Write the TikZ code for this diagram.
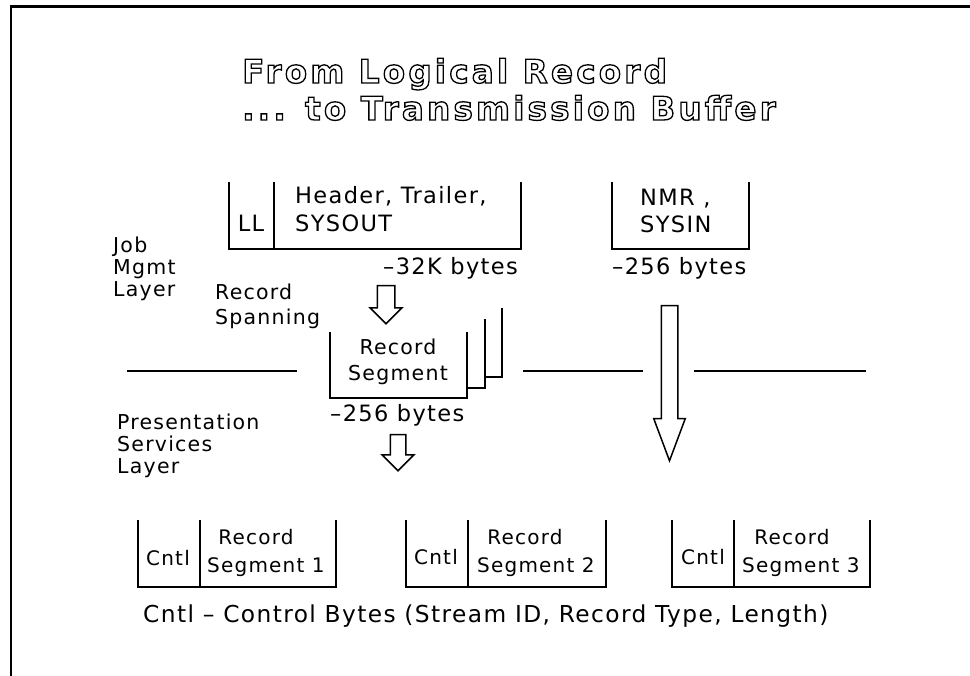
\documentclass[tikz,border=0pt]{standalone}
\usepackage{fontspec}
\setmainfont{DejaVu Sans}
\newfontfamily\plotfont[LetterSpace=6]{DejaVu Sans}
\newfontfamily\bannerfont[LetterSpace=10]{DejaVu Sans Bold}
\usetikzlibrary{shapes.arrows}

% hollow letters: stroke the glyph outlines only
\newcommand{\hollow}[1]{\special{pdf:literal direct 1 Tr 1.3 w}#1\special{pdf:literal direct 0 Tr}}

\begin{document}
\begin{tikzpicture}[
  x=1pt, y=-1pt,
	banner/.style={
	font=\bannerfont\fontsize{32.5}{38}\selectfont,
	inner sep=0pt,
	anchor=base west},
	bigtext/.style={
	font=\plotfont\fontsize{22.5}{27}\selectfont,
	inner sep=0pt},
	sidetext/.style={
	font=\plotfont\fontsize{20.5}{22}\selectfont,
	inner sep=0pt,
	align=left,
	anchor=north west},
	celltext/.style={
	font=\plotfont\fontsize{20}{24}\selectfont,
	inner sep=0pt},
	tray/.style={
	line width=1.6pt},
	layerline/.style={
	line width=1.3pt},
	fatarrow/.style={
	single arrow,
	draw,
	fill=white,
	line width=1.5pt,
	rotate=-90,
	anchor=tail,
	inner xsep=0pt,
	single arrow head indent=0pt}]

	\useasboundingbox (0,0) rectangle (970,676);

	% Frame
	\draw[line width=2.6pt] (11,676) -- (11,6.5) -- (970,6.5);

	% Title
	\node [banner] at (242,83)  (title1) {\hollow{From Logical Record}};
	\node [banner] at (242,120) (title2) {\hollow{... to Transmission Buffer}};

	% Logical record
	\draw[tray] (229,182) |- (521,249) -- (521,182);
	\draw[tray] (274,182) -- (274,249);
	\node [bigtext, anchor=base]      at (251,232) (lltext)  {LL};
	\node [bigtext, anchor=base west] at (295,204) (hdrtext) {Header, Trailer,};
	\node [bigtext, anchor=base west] at (295,232) (outtext) {SYSOUT};
	\node [bigtext, anchor=base east] at (518,275) (bytes32) {–32K bytes};

	% NMR record
	\draw[tray] (612,182) |- (749,249) -- (749,182);
	\node [bigtext, anchor=base west] at (640,206) (nmrtext) {NMR ,};
	\node [bigtext, anchor=base west] at (640,233) (intext)  {SYSIN};
	\node [bigtext, anchor=base west] at (612,275) (bytesnmr) {–256 bytes};

	% Layers
	\node [sidetext] at (113,237) (joblayer) {Job\\Mgmt\\Layer};
	\node [sidetext] at (117,414) (pslayer)  {Presentation\\Services\\Layer};
	\node [sidetext, font=\plotfont\fontsize{20.5}{25}\selectfont] at (215,284) (spanning) {Record\\Spanning};

	\draw[layerline] (127,371) -- (297,371);
	\draw[layerline] (523,371) -- (643,371);
	\draw[layerline] (694,371) -- (866,371);

	% Record segments
	\draw[tray] (330,332) |- (467,398) -- (467,332);
	\draw[tray] (467,388) -| (485,319);
	\draw[tray] (485,377) -| (502,308);
	\node [sidetext, font=\plotfont\fontsize{20.5}{26}\selectfont, align=center, anchor=north] at (398,339) (segtext) {Record\\Segment};
	\node [bigtext, anchor=base west] at (330,422) (bytesseg) {–256 bytes};

	% Arrows
	\node [fatarrow, minimum height=38pt, inner ysep=8pt, single arrow head extend=7pt, single arrow tip angle=90] at (386,285) (spanarrow) {};
	\node [fatarrow, minimum height=36pt, inner ysep=7pt, single arrow head extend=8pt, single arrow tip angle=90] at (398,434) (segarrow) {};
	\node [fatarrow, minimum height=155pt, inner ysep=7.5pt, single arrow head extend=7.5pt, single arrow tip angle=41] at (669.5,305) (nmrarrow) {};

	% Transmission buffer
	\draw[tray] (138,520) |- (336,587) -- (336,520);
	\draw[tray] (200,520) -- (200,587);
	\node [celltext, anchor=base]      at (168,565) (cntl1) {Cntl};
	\node [celltext, anchor=base]      at (256,544) (rec1)  {Record};
	\node [celltext, anchor=base west] at (207,572) (seg1)  {Segment 1};

	\draw[tray] (406,520) |- (606,587) -- (606,520);
	\draw[tray] (468,520) -- (468,587);
	\node [celltext, anchor=base]      at (436,564) (cntl2) {Cntl};
	\node [celltext, anchor=base]      at (525,544) (rec2)  {Record};
	\node [celltext, anchor=base west] at (477,572) (seg2)  {Segment 2};

	\draw[tray] (672,520) |- (870,587) -- (870,520);
	\draw[tray] (734,520) -- (734,587);
	\node [celltext, anchor=base]      at (703,564) (cntl3) {Cntl};
	\node [celltext, anchor=base]      at (792,544) (rec3)  {Record};
	\node [celltext, anchor=base west] at (742,572) (seg3)  {Segment 3};

	\node [bigtext, font=\plotfont\fontsize{23.3}{28}\selectfont, anchor=base west] at (143,622) (legend) {Cntl – Control Bytes (Stream ID, Record Type, Length)};

\end{tikzpicture}
\end{document}
